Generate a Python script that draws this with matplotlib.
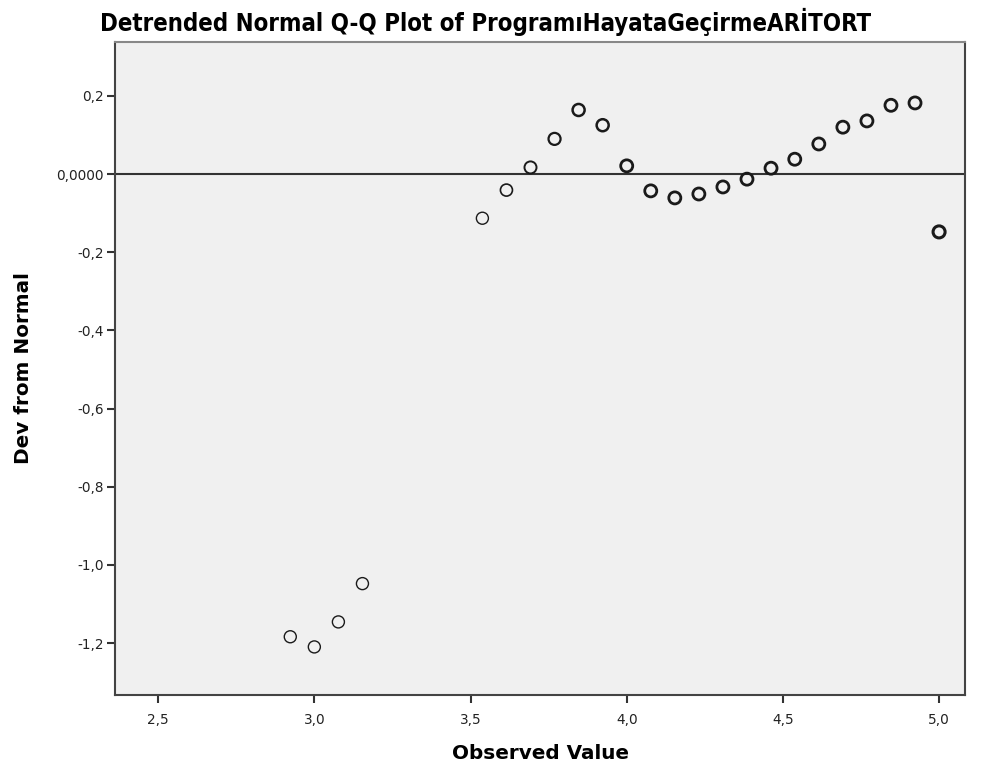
import matplotlib

matplotlib.use("Agg")
import matplotlib.pyplot as plt

TITLE = "Detrended Normal Q-Q Plot of ProgramıHayataGeçirmeARİTORT"

observed = [2.923, 3.000, 3.077, 3.154, 3.538, 3.615, 3.692, 3.769, 3.846, 3.923,
            4.000, 4.077, 4.154, 4.231, 4.308, 4.385, 4.462, 4.538, 4.615, 4.692,
            4.769, 4.846, 4.923, 5.000]
dev_from_normal = [-1.184, -1.210, -1.146, -1.048, -0.113, -0.041, 0.017, 0.090, 0.164, 0.125,
                   0.021, -0.043, -0.061, -0.051, -0.033, -0.013, 0.015, 0.038, 0.077, 0.120,
                   0.136, 0.176, 0.182, -0.148]
# heavier rings where several cases overlap
ring_width = [1.0, 1.0, 1.0, 1.0, 1.0, 1.2, 1.4, 1.6, 1.8, 1.8,
              2.0, 2.0, 2.0, 2.0, 2.0, 2.0, 2.0, 2.0, 2.0, 2.0,
              2.0, 2.0, 2.0, 2.2]

x_ticks = [2.5, 3.0, 3.5, 4.0, 4.5, 5.0]
x_tick_labels = ["2,5", "3,0", "3,5", "4,0", "4,5", "5,0"]
y_ticks = [0.2, 0.0, -0.2, -0.4, -0.6, -0.8, -1.0, -1.2]
y_tick_labels = ["0,2", "0,0000", "-0,2", "-0,4", "-0,6", "-0,8", "-1,0", "-1,2"]

fig = plt.figure(figsize=(9.85, 7.76), dpi=100)
ax = fig.add_axes([0.1168, 0.1044, 0.8629, 0.8415])
ax.set_facecolor("#f0f0f0")

ax.axhline(0, color="#333333", linewidth=1.5, zorder=2)
ax.scatter(observed, dev_from_normal, s=75, facecolors="none", edgecolors="#1a1a1a",
           linewidths=ring_width, zorder=3)

ax.set_xlim(2.362, 5.083)
ax.set_ylim(-1.333, 0.338)
ax.set_xticks(x_ticks, x_tick_labels)
ax.set_yticks(y_ticks, y_tick_labels)
ax.tick_params(direction="out", length=6, width=1.5, color="#333333",
               labelsize=9.8, labelcolor="#222222", pad=2)
ax.tick_params(axis="x", pad=7)
for spine in ax.spines.values():
    spine.set_color("#444444")
    spine.set_linewidth(1.5)
ax.spines["top"].set_color("#888888")

ax.set_xlabel("Observed Value", fontsize=14.4, fontweight="bold", labelpad=12)
ax.set_ylabel("Dev from Normal", fontsize=14.4, fontweight="bold", labelpad=17)
fig.text(0.1015, 0.972, TITLE, fontsize=17.2, fontweight="bold", fontstretch="condensed",
         family="DejaVu Sans", ha="left", va="center")

fig.savefig("out.png", dpi=100)
